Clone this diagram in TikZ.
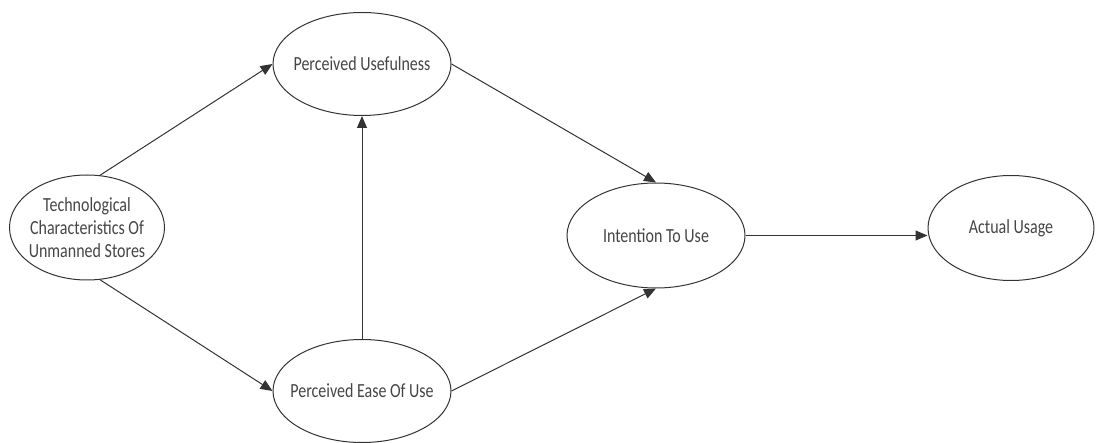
\documentclass[tikz,border=0pt]{standalone}
\usepackage{fontspec}
\setmainfont{Carlito}[FakeStretch=0.8]
\usetikzlibrary{shapes.geometric,arrows.meta}
\definecolor{linec}{HTML}{333333}
\definecolor{textc}{HTML}{454545}
\tikzset{
  ell/.style={ellipse, draw=linec, line width=1pt, inner sep=0pt},
  ltxt/.style={text=textc, font=\fontsize{20}{23}\selectfont, align=center, inner sep=0pt},
  conn/.style={draw=linec, line width=1pt, -{Triangle[length=12pt,width=10pt]}},
}
\begin{document}
\begin{tikzpicture}[x=1pt,y=-1pt]
\useasboundingbox (0,0) rectangle (1097,443);
\node[ell, minimum width=155pt, minimum height=105pt,
  label={[ltxt]center:Technological\\Characteristics Of\\Unmanned Stores}] (tech) at (87,227.5) {};
\node[ell, minimum width=178pt, minimum height=103pt,
  label={[ltxt]center:Perceived Usefulness}] (pu) at (362,64) {};
\node[ell, minimum width=178pt, minimum height=103pt,
  label={[ltxt]center:Perceived Ease Of Use}] (peou) at (362,391) {};
\node[ell, minimum width=178pt, minimum height=105pt,
  label={[ltxt]center:Intention To Use}] (itu) at (656,235.5) {};
\node[ell, minimum width=166pt, minimum height=105pt,
  label={[ltxt]center:Actual Usage}] (au) at (1011,228) {};
\draw[conn] (tech.76) -- (pu.west);
\draw[conn] (tech.-76) -- (peou.west);
\draw[conn] (peou.north) -- (pu.south);
\draw[conn] (pu.east) -- (itu.north);
\draw[conn] (peou.east) -- (itu.south);
\draw[conn] (itu.east) -- (itu.east -| au.west);
\end{tikzpicture}
\end{document}
